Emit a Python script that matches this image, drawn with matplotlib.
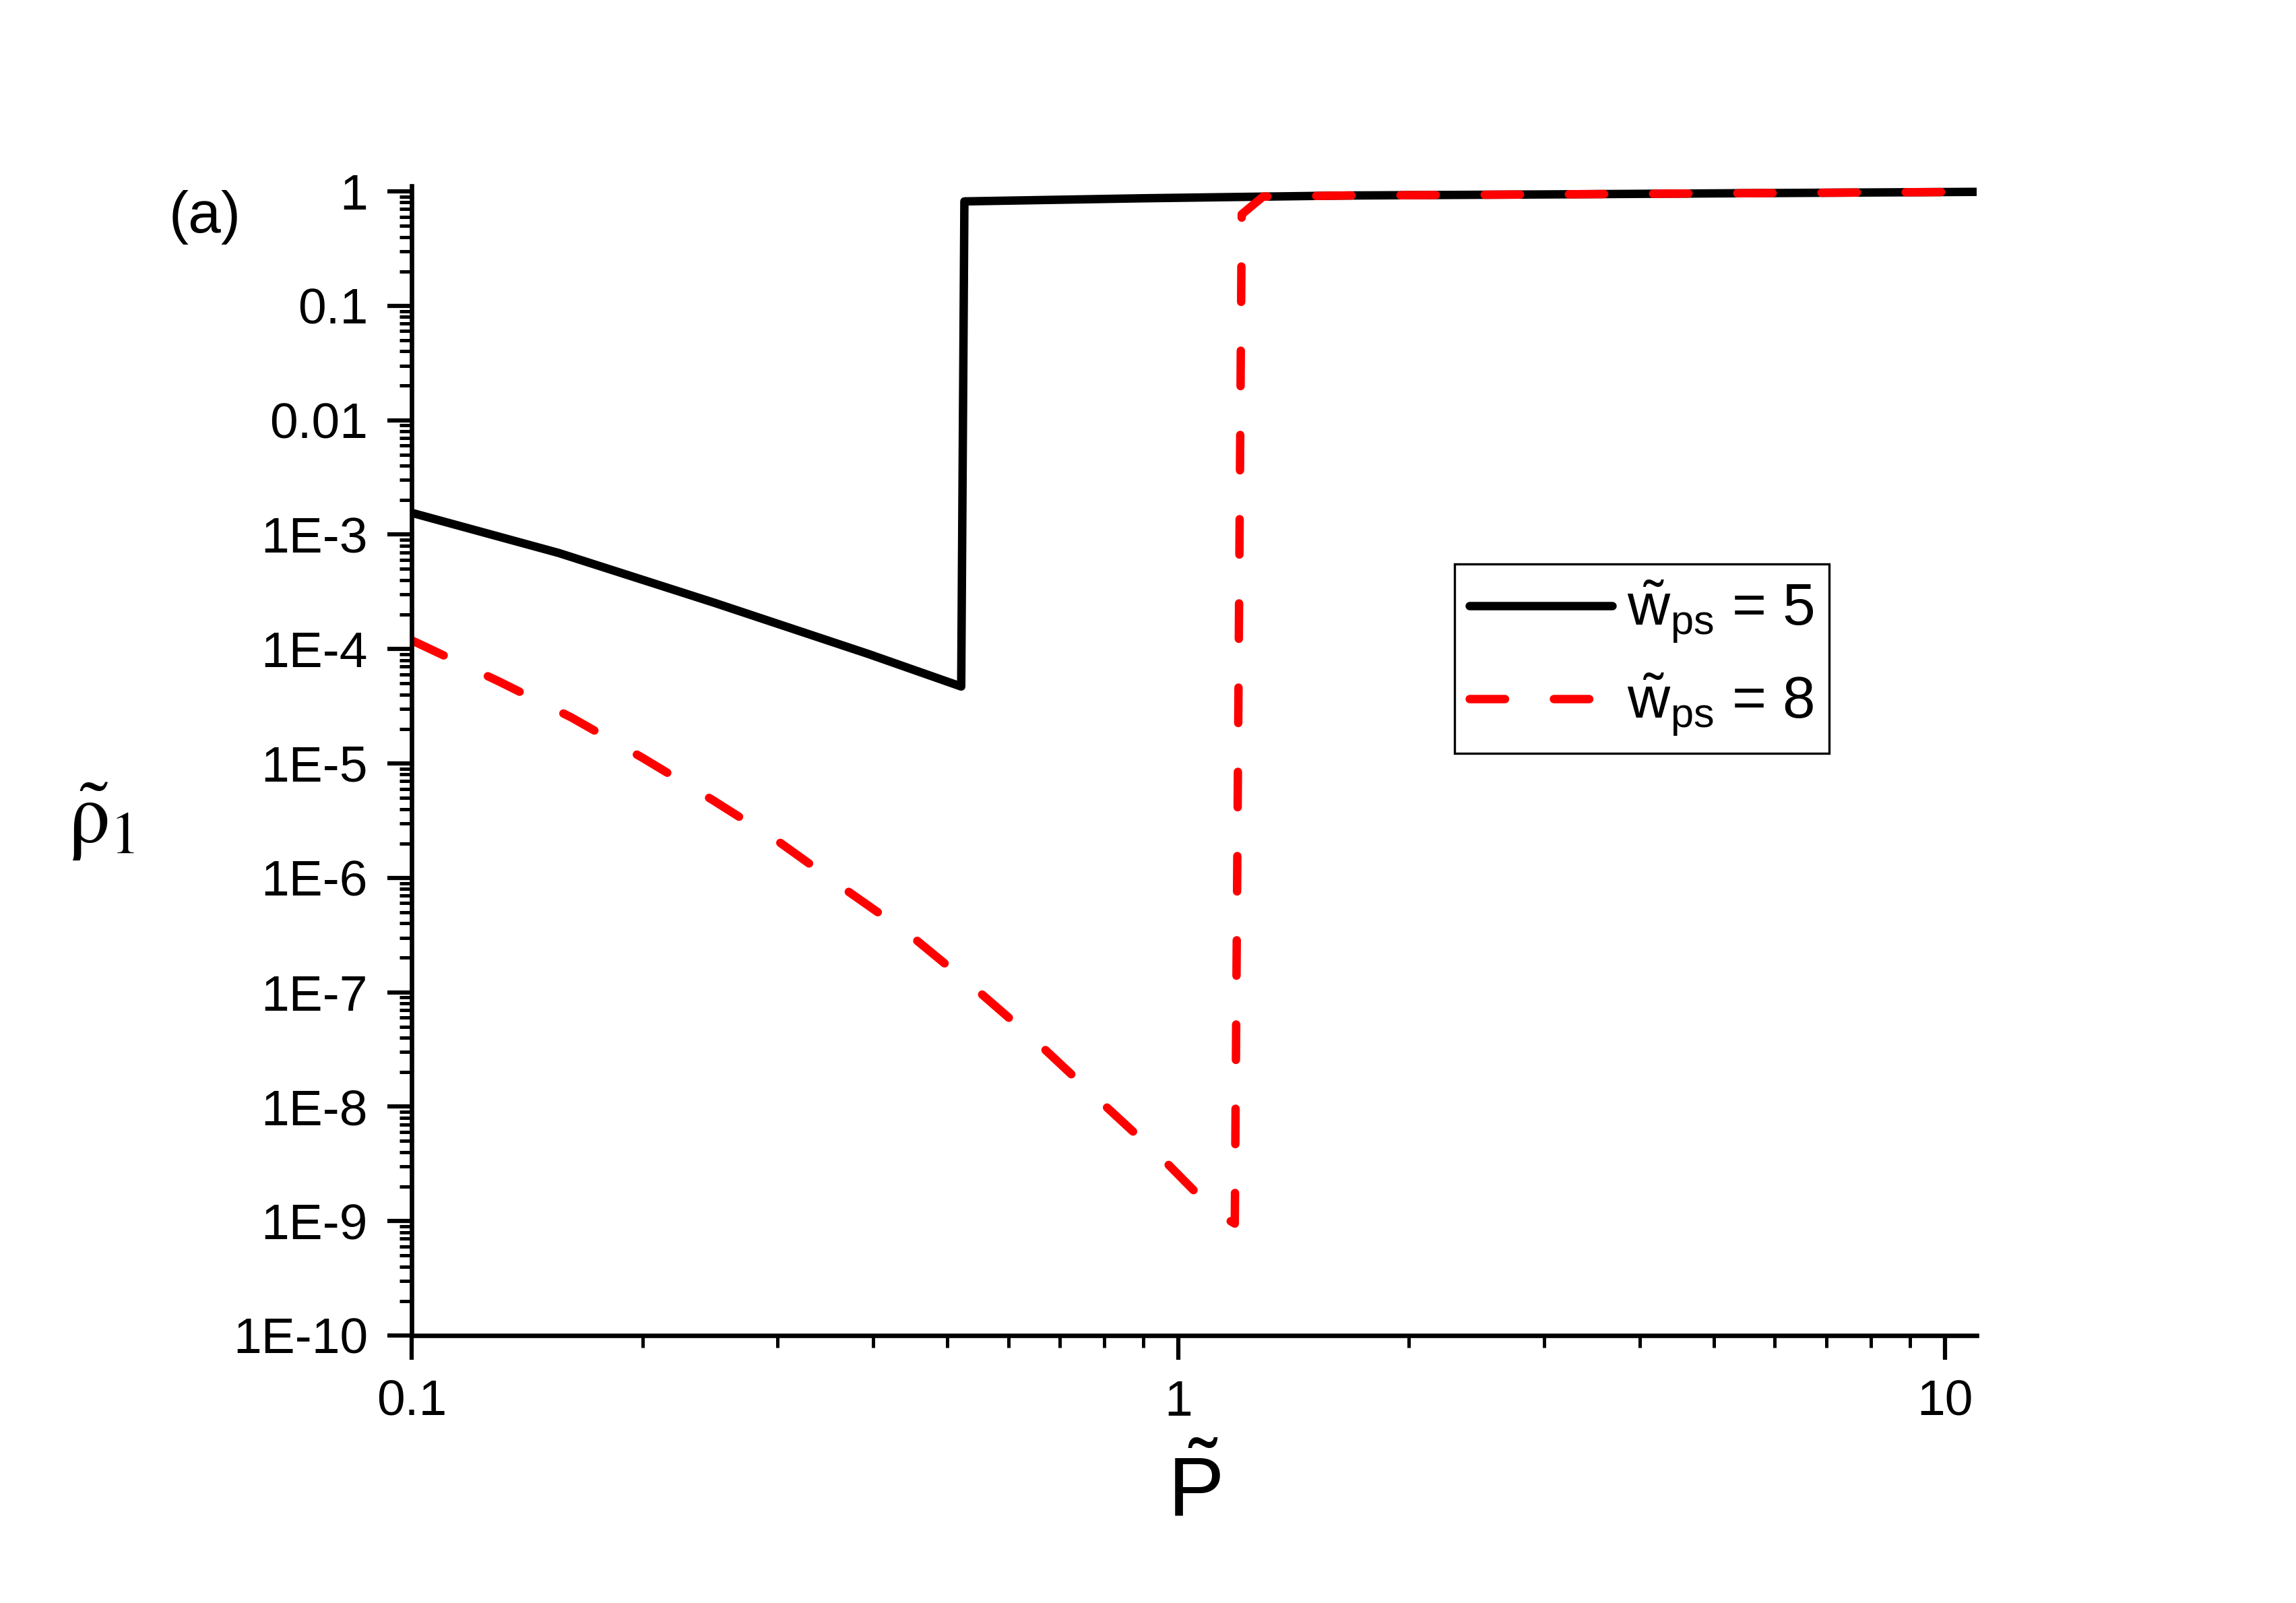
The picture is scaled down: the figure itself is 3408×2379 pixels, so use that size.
import numpy as np
import matplotlib
matplotlib.use("Agg")
import matplotlib.pyplot as plt
from matplotlib.ticker import LogLocator, NullFormatter

plt.rcParams['font.family'] = ['Liberation Sans', 'DejaVu Sans']
plt.rcParams['mathtext.fontset'] = 'custom'
plt.rcParams['mathtext.rm'] = 'Liberation Sans'
plt.rcParams['mathtext.it'] = 'Liberation Sans:italic'

# curve for w_ps = 5
p_w5 = [0.1, 0.1556, 0.248, 0.394, 0.521, 0.526, 0.9, 1.3, 1.66, 3.0, 5.0, 11.0]
rho_w5 = [1.55e-3, 6.9e-4, 2.54e-4, 9.06e-5, 4.7e-5, 0.817, 0.87, 0.90, 0.92, 0.94, 0.96, 0.99]

# curve for w_ps = 8
p_w8 = [0.1, 0.1047, 0.130, 0.1614, 0.2, 0.247, 0.302, 0.367, 0.446, 0.544,
        0.656, 0.787, 0.954, 1.117, 1.185, 1.21, 1.29, 1.66, 3.0, 5.0, 11.0]
rho_w8 = [1.19e-4, 1.03e-4, 5.2e-5, 2.53e-5, 1.12e-5, 4.78e-6, 2.04e-6, 8.0e-7, 3.2e-7, 1.07e-7,
          3.6e-8, 1.15e-8, 3.5e-9, 1.2e-9, 9.5e-10, 0.63, 0.90, 0.92, 0.94, 0.96, 0.99]

labels = [r'$\tilde{\mathrm{w}}_{\mathrm{ps}}$ = 5', r'$\tilde{\mathrm{w}}_{\mathrm{ps}}$ = 8']

x_ticks = [0.1, 1, 10]
x_tick_labels = ['0.1', '1', '10']
y_ticks = [1e-10, 1e-9, 1e-8, 1e-7, 1e-6, 1e-5, 1e-4, 1e-3, 1e-2, 1e-1, 1]
y_tick_labels = ['1E-10', '1E-9', '1E-8', '1E-7', '1E-6', '1E-5', '1E-4', '1E-3', '0.01', '0.1', '1']

fig = plt.figure(figsize=(11.36, 7.93), dpi=300)
ax = fig.add_axes([0.1793, 0.1669, 0.6816, 0.7171])

ax.plot(p_w5, rho_w5, color='black', lw=3.0, label=labels[0], solid_capstyle='round')
ax.plot(p_w8, rho_w8, color='red', lw=3.0, linestyle=(0, (4.2, 5.8)),
        dash_capstyle='round', label=labels[1])

ax.set_xscale('log')
ax.set_yscale('log')
ax.set_xlim(0.1, 11.0)
ax.set_ylim(1e-10, 1.115)

ax.set_xticks(x_ticks, labels=x_tick_labels)
ax.set_yticks(y_ticks, labels=y_tick_labels)
ax.xaxis.set_minor_locator(LogLocator(base=10, subs=np.arange(2, 10), numticks=100))
ax.yaxis.set_minor_locator(LogLocator(base=10, subs=np.arange(2, 10), numticks=100))
ax.xaxis.set_minor_formatter(NullFormatter())
ax.yaxis.set_minor_formatter(NullFormatter())

# axis look: only left/bottom, ticks outwards
for s in ['top', 'right']:
    ax.spines[s].set_visible(False)
for s in ['left', 'bottom']:
    ax.spines[s].set_linewidth(1.6)
ax.tick_params(which='major', direction='out', length=8.6, width=1.5, labelsize=18, pad=7)
ax.tick_params(which='minor', direction='out', length=4.3, width=1.2)

leg = ax.legend(loc='upper left', bbox_to_anchor=(0.6335, 0.6482), bbox_transform=fig.transFigure,
                fontsize=21, frameon=True, fancybox=False, edgecolor='black', framealpha=1,
                handlelength=2.43, handletextpad=0.25, borderpad=0.25, labelspacing=0.45,
                borderaxespad=0)
leg.get_frame().set_linewidth(0.8)

fig.text(0.0892, 0.8646, '(a)', fontsize=21, ha='center', va='center')
fig.text(0.520, 0.069, r'$\tilde{\mathrm{P}}$', fontsize=30, ha='center', va='center')
fig.text(0.044, 0.487, r'$\tilde{\mathrm{\rho}}_{\mathrm{1}}$', fontsize=30, ha='center', va='center',
         math_fontfamily='stix')

fig.savefig('out.png', dpi=300)
